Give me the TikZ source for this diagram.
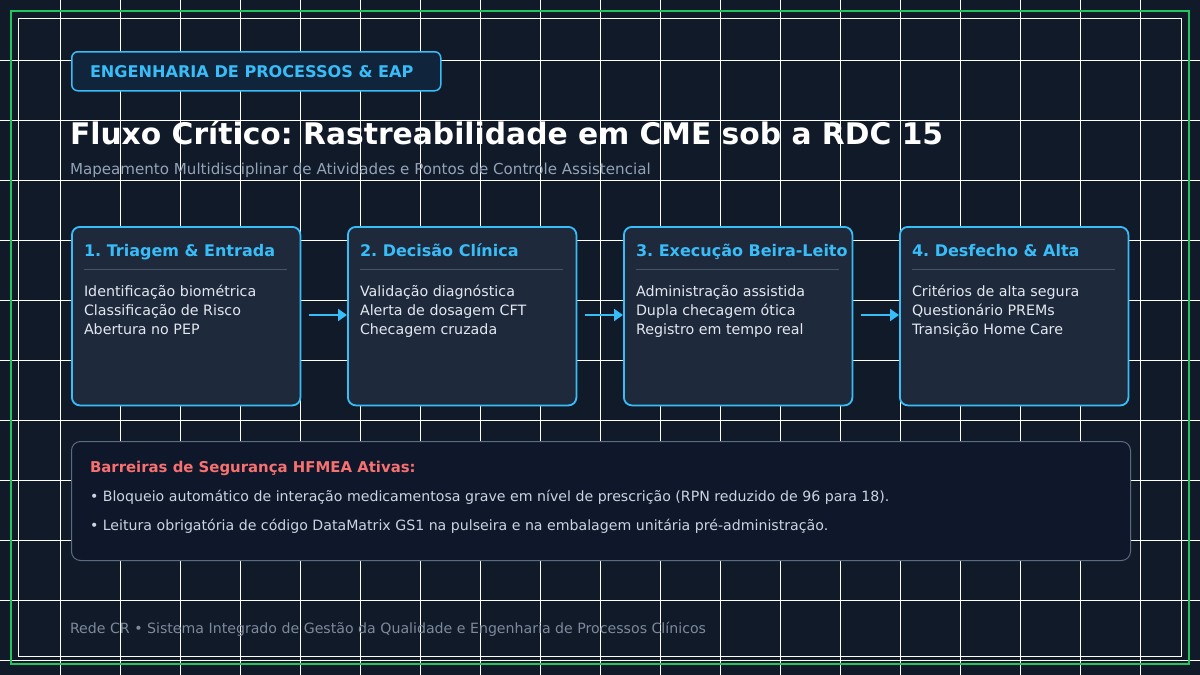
\documentclass[tikz,border=0pt]{standalone}
\usepackage{fontspec}
\setmainfont{DejaVu Sans}
\usetikzlibrary{arrows.meta}
\frenchspacing
\definecolor{bg}{HTML}{111A28}
\definecolor{sky}{HTML}{38BDF8}
\definecolor{badgefill}{HTML}{10243B}
\definecolor{cardfill}{HTML}{1E293B}
\definecolor{sepline}{HTML}{475569}
\definecolor{itemtxt}{HTML}{E2E8F0}
\definecolor{subtxt}{HTML}{94A3B8}
\definecolor{barfill}{HTML}{0F172A}
\definecolor{barline}{HTML}{5B6B80}
\definecolor{redtxt}{HTML}{F87171}
\definecolor{bullettxt}{HTML}{CBD5E1}
\definecolor{foottxt}{HTML}{7D8A9C}
\definecolor{greenb}{HTML}{22C55E}
\tikzset{
  gridline/.style={white, line width=1pt},
  txt/.style={anchor=base west, inner sep=0pt, outer sep=0pt},
  card/.style={draw=sky, fill=cardfill, line width=1.8pt, rounded corners=8pt, anchor=north west, minimum width=228.5pt, minimum height=178.5pt, inner sep=0pt},
  cardtitle/.style={txt, text=sky, font=\fontsize{16}{19}\selectfont\bfseries},
  carditem/.style={txt, text=itemtxt, font=\fontsize{14.25}{17}\selectfont},
  flowarrow/.style={draw=sky, line width=2.8pt, -{Triangle[length=9pt,width=12pt]}, shorten <=8pt},
}
\begin{document}
\begin{tikzpicture}[x=1pt,y=-1pt]
\useasboundingbox (0,0) rectangle (1200,675);
\fill[bg] (0,0) rectangle (1200,675);
\foreach \x in {60,120,...,1140} \draw[gridline] (\x,0) -- (\x,675);
\foreach \y in {60,120,...,660} \draw[gridline] (0,\y) -- (1200,\y);
\draw[white, line width=1pt] (18.5,18.5) rectangle (1181.5,656.5);
\draw[greenb, line width=2.2pt] (11,11) rectangle (1189,664);

% badge
\node[draw=sky, fill=badgefill, line width=1.5pt, rounded corners=6pt, anchor=north west, minimum width=369pt, minimum height=39pt, inner sep=0pt] (badge) at (71,51) {};
\node[txt, text=sky, font=\fontsize{16.1}{18}\selectfont\bfseries] (badgetxt) at (90,77.5) {ENGENHARIA DE PROCESSOS \& EAP};

% title
\node[txt, text=white, font=\fontsize{29.75}{34}\selectfont\bfseries] (title) at (70,144) {Fluxo Crítico: Rastreabilidade em CME sob a RDC 15};
\node[txt, text=subtxt, font=\fontsize{15.1}{17}\selectfont] (subtitle) at (70,174) {Mapeamento Multidisciplinar de Atividades e Pontos de Controle Assistencial};

% cards
\node[card] (c1) at (71,226) {};
\node[card] (c2) at (347,226) {};
\node[card] (c3) at (623,226) {};
\node[card] (c4) at (899,226) {};

\foreach \n/\x in {1/71,2/347,3/623,4/899}{
  \coordinate (s\n a) at (\x+13,269.5);
  \coordinate (s\n b) at (\x+216,269.5);
  \draw[sepline, line width=1pt] (s\n a) -- (s\n b);
}

\node[cardtitle] (t1) at (84,256) {1. Triagem \& Entrada};
\node[carditem] (i1a) at (84,296) {Identificação biométrica};
\node[carditem] (i1b) at (84,315) {Classificação de Risco};
\node[carditem] (i1c) at (84,334) {Abertura no PEP};

\node[cardtitle] (t2) at (360,256) {2. Decisão Clínica};
\node[carditem] (i2a) at (360,296) {Validação diagnóstica};
\node[carditem] (i2b) at (360,315) {Alerta de dosagem CFT};
\node[carditem] (i2c) at (360,334) {Checagem cruzada};

\node[cardtitle] (t3) at (636,256) {3. Execução Beira-Leito};
\node[carditem] (i3a) at (636,296) {Administração assistida};
\node[carditem] (i3b) at (636,315) {Dupla checagem ótica};
\node[carditem] (i3c) at (636,334) {Registro em tempo real};

\node[cardtitle] (t4) at (912,256) {4. Desfecho \& Alta};
\node[carditem] (i4a) at (912,296) {Critérios de alta segura};
\node[carditem] (i4b) at (912,315) {Questionário PREMs};
\node[carditem] (i4c) at (912,334) {Transição Home Care};

\draw[flowarrow] (c1.east |- 0,315) -- (c2.west |- 0,315);
\draw[flowarrow] (c2.east |- 0,315) -- (c3.west |- 0,315);
\draw[flowarrow] (c3.east |- 0,315) -- (c4.west |- 0,315);

% barriers
\node[draw=barline, fill=barfill, line width=1pt, rounded corners=9pt, anchor=north west, minimum width=1059pt, minimum height=119pt, inner sep=0pt] (bar) at (71,441) {};
\node[txt, text=redtxt, font=\fontsize{14.9}{17}\selectfont\bfseries] (bartitle) at (90,472) {Barreiras de Segurança HFMEA Ativas:};
\node[txt, text=bullettxt, font=\fontsize{14.15}{16}\selectfont] (b1) at (90,501) {• Bloqueio automático de interação medicamentosa grave em nível de prescrição (RPN reduzido de 96 para 18).};
\node[txt, text=bullettxt, font=\fontsize{14.15}{16}\selectfont] (b2) at (90,530) {• Leitura obrigatória de código DataMatrix GS1 na pulseira e na embalagem unitária pré-administração.};

% footer
\node[txt, text=foottxt, font=\fontsize{14.15}{17}\selectfont] (footer) at (70,633) {Rede CR • Sistema Integrado de Gestão da Qualidade e Engenharia de Processos Clínicos};
\end{tikzpicture}
\end{document}
